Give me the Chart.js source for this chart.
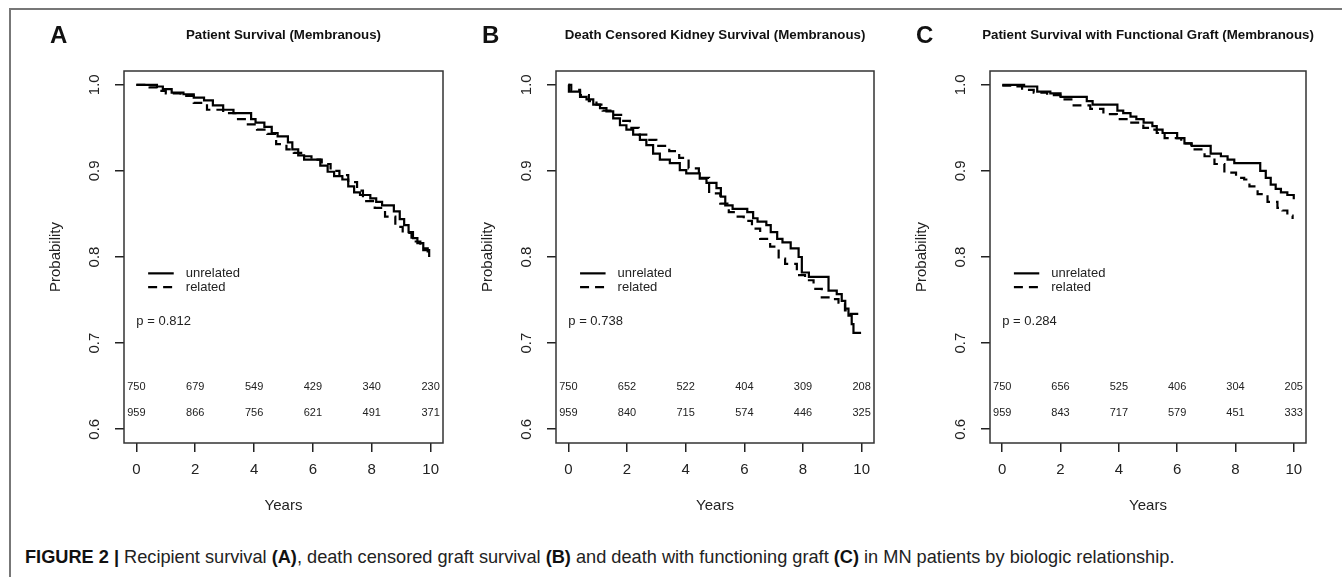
<!DOCTYPE html>
<html>
<head>
<meta charset="utf-8">
<script src="https://cdn.jsdelivr.net/npm/chart.js@4.4.1/dist/chart.umd.min.js"></script>
<style>
    body { margin: 0; background: #fff; width: 1342px; height: 577px; overflow: hidden; position: relative; font-family: "Liberation Sans", Arial, sans-serif; }
    #frame { position: absolute; left: 9px; top: 8px; width: 1400px; height: 600px; border-top: 2px solid #777; border-left: 2px solid #777; }
    canvas { position: absolute; top: 0; }
    #caption { position: absolute; left: 25px; top: 547px; font-size: 18.2px; color: #222; white-space: nowrap; }
    #caption b { color: #111; }
</style>
</head>
<body>
<div id="frame"></div>
<canvas id="chartA" width="450" height="520" style="left:0px"></canvas>
<canvas id="chartB" width="440" height="520" style="left:450px"></canvas>
<canvas id="chartC" width="452" height="520" style="left:890px"></canvas>
<div id="caption"><b>FIGURE 2 |</b> Recipient survival <b>(A)</b>, death censored graft survival <b>(B)</b> and death with functioning graft <b>(C)</b> in MN patients by biologic relationship.</div>

<script>
// axis ticks
const xTicks = [0, 2, 4, 6, 8, 10];
const yTicks = [0.6, 0.7, 0.8, 0.9, 1.0];
const riskYears = [0, 2, 4, 6, 8, 10];

// A - patient survival
const patientUnrelYears = [0, 0.7, 0.9, 1.2, 1.6, 1.95, 2.3, 2.6, 2.95, 3.3, 3.9, 4.05, 4.35, 4.6, 4.8, 5.15, 5.3, 5.5, 5.7, 6.25, 6.5, 6.72, 7.0, 7.2, 7.4, 7.6, 7.95, 8.15, 8.35, 8.75, 8.95, 9.1, 9.25, 9.4, 9.55, 9.75, 9.95];
const patientUnrelSurv = [1.0, 0.998, 0.995, 0.991, 0.989, 0.985, 0.982, 0.976, 0.971, 0.967, 0.960, 0.956, 0.951, 0.944, 0.940, 0.933, 0.925, 0.918, 0.913, 0.906, 0.899, 0.894, 0.890, 0.882, 0.875, 0.872, 0.868, 0.864, 0.860, 0.853, 0.844, 0.837, 0.829, 0.822, 0.816, 0.808, 0.800];
const patientRelYears = [0, 0.45, 0.7, 1.0, 1.5, 1.95, 2.4, 2.95, 3.4, 3.75, 4.1, 4.45, 4.75, 5.1, 5.35, 5.6, 5.95, 6.3, 6.6, 6.9, 7.2, 7.5, 7.7, 8.1, 8.45, 8.8, 9.05, 9.35, 9.65, 9.9];
const patientRelSurv = [1.0, 0.997, 0.993, 0.990, 0.987, 0.979, 0.971, 0.967, 0.960, 0.954, 0.948, 0.943, 0.931, 0.925, 0.921, 0.917, 0.913, 0.908, 0.900, 0.895, 0.887, 0.877, 0.865, 0.857, 0.847, 0.835, 0.828, 0.818, 0.810, 0.800];
const patientRiskUnrel = [750, 679, 549, 429, 340, 230];
const patientRiskRel = [959, 866, 756, 621, 491, 371];

// B - death censored kidney survival
const kidneyUnrelYears = [0, 0.02, 0.4, 0.62, 0.85, 1.08, 1.3, 1.53, 1.76, 1.98, 2.21, 2.44, 2.66, 2.89, 3.12, 3.46, 3.8, 4.02, 4.48, 4.71, 5.05, 5.2, 5.35, 5.6, 6.1, 6.3, 6.45, 6.75, 6.9, 7.12, 7.3, 7.58, 7.85, 7.96, 8.2, 8.87, 9.15, 9.32, 9.44, 9.55, 9.66, 9.72, 9.98];
const kidneyUnrelSurv = [1.0, 0.992, 0.986, 0.983, 0.977, 0.973, 0.969, 0.961, 0.953, 0.948, 0.942, 0.936, 0.930, 0.920, 0.913, 0.909, 0.901, 0.897, 0.891, 0.886, 0.880, 0.870, 0.860, 0.856, 0.852, 0.845, 0.841, 0.837, 0.829, 0.821, 0.817, 0.810, 0.800, 0.782, 0.777, 0.761, 0.757, 0.749, 0.740, 0.732, 0.722, 0.712, 0.712];
const kidneyRelYears = [0, 0.1, 0.4, 0.7, 0.96, 1.17, 1.5, 1.8, 2.1, 2.4, 2.7, 3.0, 3.44, 3.78, 4.1, 4.45, 4.8, 5.18, 5.47, 5.64, 5.98, 6.26, 6.54, 6.88, 7.17, 7.39, 7.79, 8.07, 8.36, 8.64, 8.98, 9.21, 9.43, 9.59, 9.95];
const kidneyRelSurv = [1.0, 0.994, 0.988, 0.981, 0.977, 0.970, 0.965, 0.958, 0.950, 0.942, 0.936, 0.929, 0.923, 0.915, 0.903, 0.892, 0.874, 0.862, 0.852, 0.847, 0.842, 0.833, 0.821, 0.812, 0.798, 0.792, 0.779, 0.773, 0.763, 0.753, 0.751, 0.747, 0.738, 0.734, 0.732];
const kidneyRiskUnrel = [750, 652, 522, 404, 309, 208];
const kidneyRiskRel = [959, 840, 715, 574, 446, 325];

// C - patient survival with functional graft
const graftUnrelYears = [0, 0.75, 1.2, 1.65, 2.0, 2.9, 3.1, 3.95, 4.15, 4.4, 4.6, 4.85, 5.15, 5.3, 5.5, 6.0, 6.25, 6.5, 7.15, 7.5, 7.73, 7.96, 8.85, 9.04, 9.21, 9.38, 9.56, 9.78, 10.0];
const graftUnrelSurv = [1.0, 0.998, 0.992, 0.990, 0.986, 0.981, 0.977, 0.970, 0.967, 0.963, 0.960, 0.956, 0.952, 0.948, 0.944, 0.938, 0.932, 0.929, 0.920, 0.917, 0.913, 0.909, 0.900, 0.892, 0.884, 0.879, 0.875, 0.872, 0.867];
const graftRelYears = [0, 0.4, 0.68, 1.08, 1.54, 1.99, 2.45, 3.02, 3.47, 3.93, 4.38, 4.84, 5.1, 5.3, 5.57, 6.14, 6.48, 6.94, 7.28, 7.62, 8.02, 8.3, 8.48, 8.76, 9.1, 9.44, 9.61, 9.78, 9.96];
const graftRelSurv = [0.999, 0.998, 0.994, 0.991, 0.988, 0.983, 0.976, 0.972, 0.966, 0.960, 0.956, 0.950, 0.948, 0.944, 0.938, 0.932, 0.925, 0.917, 0.908, 0.898, 0.892, 0.890, 0.882, 0.873, 0.864, 0.857, 0.854, 0.848, 0.844];
const graftRiskUnrel = [750, 656, 525, 406, 304, 205];
const graftRiskRel = [959, 843, 717, 579, 451, 333];

const FONT = '"Liberation Sans", Arial, sans-serif';
const DASH = [9, 6];

function toPoints(xs, ys) {
    return xs.map((t, i) => ({ x: t, y: ys[i] }));
}

// box, title, letter, legend, p value and numbers at risk, R style
const rPlot = {
    id: 'rPlot',
    afterDraw(chart, args, o) {
        const { ctx, chartArea: a, scales: { x, y } } = chart;
        ctx.save();
        ctx.strokeStyle = '#333';
        ctx.lineWidth = 1.5;
        ctx.strokeRect(a.left, a.top, a.right - a.left, a.bottom - a.top);

        ctx.fillStyle = '#111';
        ctx.textBaseline = 'middle';
        ctx.textAlign = 'center';
        ctx.font = 'bold 13.3px ' + FONT;
        ctx.fillText(o.title, (a.left + a.right) / 2, 35);
        ctx.textAlign = 'left';
        ctx.font = 'bold 24px ' + FONT;
        ctx.fillText(o.letter, a.left - 74, 36);

        // legend
        ctx.font = '13px ' + FONT;
        ctx.fillStyle = '#222';
        ctx.strokeStyle = '#000';
        ctx.lineWidth = 2.2;
        [['unrelated', [], 0.781], ['related', DASH, 0.765]].forEach(([label, dash, v]) => {
            const py = y.getPixelForValue(v);
            ctx.setLineDash(dash);
            ctx.beginPath();
            ctx.moveTo(x.getPixelForValue(0.4), py);
            ctx.lineTo(x.getPixelForValue(1.27), py);
            ctx.stroke();
            ctx.fillText(label, x.getPixelForValue(1.68), py);
        });
        ctx.setLineDash([]);
        ctx.fillText(o.p, x.getPixelForValue(0.0), y.getPixelForValue(0.725));

        // numbers at risk
        ctx.font = '11px ' + FONT;
        ctx.textAlign = 'center';
        riskYears.forEach((t, i) => {
            const px = x.getPixelForValue(t);
            ctx.fillText(String(o.riskUnrel[i]), px, y.getPixelForValue(0.649));
            ctx.fillText(String(o.riskRel[i]), px, y.getPixelForValue(0.619));
        });
        ctx.restore();
    }
};

function makeChart(id, pad, unrel, rel, info) {
    return new Chart(document.getElementById(id), {
        type: 'line',
        data: {
            datasets: [
                { label: 'unrelated', data: unrel, borderColor: '#000', borderWidth: 2.2, stepped: 'before', pointRadius: 0, fill: false },
                { label: 'related', data: rel, borderColor: '#000', borderWidth: 2.2, borderDash: DASH, stepped: 'before', pointRadius: 0, fill: false }
            ]
        },
        options: {
            responsive: false,
            animation: false,
            events: [],
            layout: { padding: { left: pad.left, right: pad.right, top: 71, bottom: 5 } },
            scales: {
                x: {
                    type: 'linear',
                    min: -0.42,
                    max: 10.42,
                    afterBuildTicks: s => { s.ticks = xTicks.map(v => ({ value: v })); },
                    afterFit: s => { s.height = 72; },
                    border: { display: false },
                    grid: { drawOnChartArea: false, drawTicks: true, tickLength: 9, color: '#222', lineWidth: 1.5 },
                    ticks: { font: { family: FONT, size: 15 }, color: '#222', padding: 9, maxRotation: 0 },
                    title: { display: true, text: 'Years', font: { family: FONT, size: 15 }, color: '#222', padding: 0 }
                },
                y: {
                    type: 'linear',
                    min: 0.584,
                    max: 1.016,
                    afterBuildTicks: s => { s.ticks = yTicks.map(v => ({ value: v })); },
                    afterFit: s => { s.width = 78; },
                    border: { display: false },
                    grid: { drawOnChartArea: false, drawTicks: true, tickLength: 9, color: '#222', lineWidth: 1.5 },
                    ticks: { font: { family: FONT, size: 15 }, color: '#222', padding: 10, minRotation: 90, maxRotation: 90, crossAlign: 'center', callback: v => v.toFixed(1) },
                    title: { display: true, text: 'Probability', font: { family: FONT, size: 15 }, color: '#222', padding: 1 }
                }
            },
            plugins: {
                legend: { display: false },
                tooltip: { enabled: false },
                rPlot: info
            }
        },
        plugins: [rPlot]
    });
}

makeChart('chartA', { left: 46, right: 7 },
    toPoints(patientUnrelYears, patientUnrelSurv), toPoints(patientRelYears, patientRelSurv),
    { title: 'Patient Survival (Membranous)', letter: 'A', p: 'p = 0.812', riskUnrel: patientRiskUnrel, riskRel: patientRiskRel });

makeChart('chartB', { left: 28, right: 16 },
    toPoints(kidneyUnrelYears, kidneyUnrelSurv), toPoints(kidneyRelYears, kidneyRelSurv),
    { title: 'Death Censored Kidney Survival (Membranous)', letter: 'B', p: 'p = 0.738', riskUnrel: kidneyRiskUnrel, riskRel: kidneyRiskRel });

makeChart('chartC', { left: 22, right: 36 },
    toPoints(graftUnrelYears, graftUnrelSurv), toPoints(graftRelYears, graftRelSurv),
    { title: 'Patient Survival with Functional Graft (Membranous)', letter: 'C', p: 'p = 0.284', riskUnrel: graftRiskUnrel, riskRel: graftRiskRel });
</script>
</body>
</html>
